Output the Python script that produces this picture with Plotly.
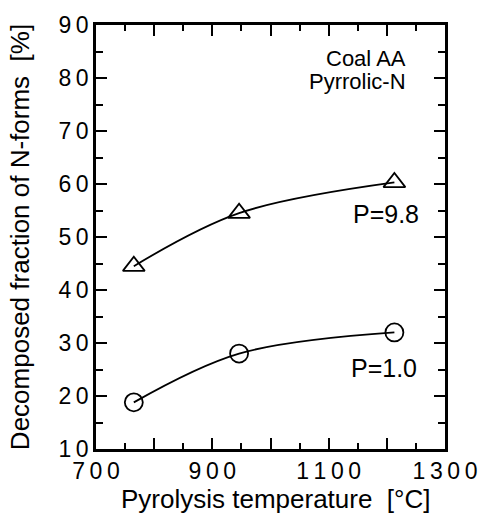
import plotly.graph_objects as go

# Pyrolysis temperatures [°C] and decomposed fraction of pyrrolic-N [%]
temps = [765, 946, 1213]
frac_p98 = [44.5, 54.5, 60.3]
frac_p10 = [18.8, 28.0, 32.0]

x_ticks = [700, 800, 900, 1000, 1100, 1200, 1300]
x_labels = ["700", "", "900", "", "1100", "", "1300"]
y_ticks = [10, 20, 30, 40, 50, 60, 70, 80, 90]


def spaced(v):
    return "\u2009".join(str(v))


fig = go.Figure()

fig.add_trace(go.Scatter(
    x=temps, y=frac_p98, mode="lines+markers",
    line=dict(color="black", width=1.8, shape="spline", smoothing=1.0),
    marker=dict(symbol="triangle-up-open", size=19, color="black",
                line=dict(width=1.8, color="black")),
    showlegend=False,
))
fig.add_trace(go.Scatter(
    x=temps, y=frac_p10, mode="lines+markers",
    line=dict(color="black", width=1.8, shape="spline", smoothing=1.0),
    marker=dict(symbol="circle-open", size=18, color="black",
                line=dict(width=1.8, color="black")),
    showlegend=False,
))

font_main = "Liberation Sans, Arial, sans-serif"

axis_common = dict(
    showgrid=False, zeroline=False, showline=True, linecolor="black",
    linewidth=2.5, mirror="ticks", ticks="inside", tickcolor="black",
    tickwidth=2, ticklen=11,
    tickfont=dict(family=font_main, size=23, color="black"),
)

fig.update_xaxes(
    range=[700, 1300], tickvals=x_ticks, ticktext=[spaced(v) for v in x_labels],
    minor=dict(dtick=50, ticks="inside", ticklen=6, tickwidth=2, tickcolor="black"),
    **axis_common,
)
fig.update_yaxes(
    range=[10, 90], tickvals=y_ticks, ticktext=[spaced(v) for v in y_ticks],
    minor=dict(dtick=5, ticks="inside", ticklen=7, tickwidth=2, tickcolor="black"),
    title=dict(text="Decomposed fraction of N-forms  [%]",
               font=dict(family=font_main, size=26, color="black"), standoff=22),
    **axis_common,
)

# x-axis title, set slightly right of the plot centre
fig.add_annotation(x=0.515, y=-0.118, xref="paper", yref="paper",
                   text="Pyrolysis temperature  [°C]", showarrow=False,
                   xanchor="center", yanchor="middle",
                   font=dict(family=font_main, size=26, color="black"))

fig.add_annotation(x=1236, y=83.6, xref="x", yref="y", text="Coal AA",
                   showarrow=False, xanchor="right", yanchor="middle",
                   font=dict(family=font_main, size=22, color="black"))
fig.add_annotation(x=1236, y=79.3, xref="x", yref="y", text="Pyrrolic-N",
                   showarrow=False, xanchor="right", yanchor="middle",
                   font=dict(family=font_main, size=22, color="black"))
fig.add_annotation(x=1258, y=54.3, xref="x", yref="y", text="P=9.8",
                   showarrow=False, xanchor="right", yanchor="middle",
                   font=dict(family=font_main, size=25, color="black"))
fig.add_annotation(x=1255, y=25.2, xref="x", yref="y", text="P=1.0",
                   showarrow=False, xanchor="right", yanchor="middle",
                   font=dict(family=font_main, size=25, color="black"))

fig.update_layout(
    width=489, height=518,
    margin=dict(l=96, r=34, t=24, b=69),
    paper_bgcolor="white", plot_bgcolor="white",
)

fig.write_html("out.html")
